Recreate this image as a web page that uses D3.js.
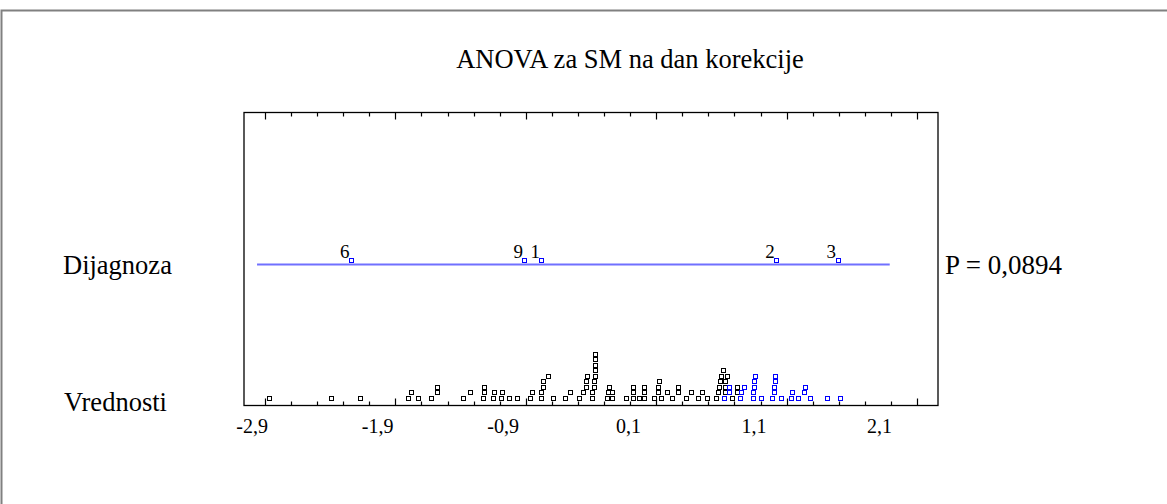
<!DOCTYPE html>
<html>
<head>
<meta charset="utf-8">
<script src="https://cdn.jsdelivr.net/npm/d3@7"></script>
<style>
  body { margin: 0; background: #fff; }
  svg { display: block; }
  text { font-family: "Liberation Serif", "Times New Roman", serif; fill: #000; }
</style>
</head>
<body>
<svg id="chart" width="1167" height="504"></svg>
<script>
// ---- data ----
const chartTitle = "ANOVA za SM na dan korekcije";
const factorLabel = "Dijagnoza";
const valuesLabel = "Vrednosti";
const pValueLabel = "P = 0,0894";

const tickValues = [-2.9, -1.9, -0.9, 0.1, 1.1, 2.1];
const tickLabels = ["-2,9", "-1,9", "-0,9", "0,1", "1,1", "2,1"];

// scaled group means for the factor
const groupNames = ["6", "9", "1", "2", "3"];
const groupMeans = [-2.24, -0.91, -0.78, 1.02, 1.49];
const meanLineExtent = [-2.96, 1.89];

// residual dot plot: values and their position in the pile (0 = bottom)
const blackValues = [
  -2.87, -2.39, -2.17, -1.80, -1.78, -1.73, -1.63, -1.58, -1.58, -1.38,
  -1.33, -1.23, -1.22, -1.22, -1.15, -1.14, -1.09, -1.08, -1.03, -0.97,
  -0.87, -0.85, -0.78, -0.78, -0.77, -0.77, -0.73, -0.69, -0.60, -0.56,
  -0.49, -0.46, -0.44, -0.44, -0.43, -0.39, -0.39, -0.38, -0.38, -0.37,
  -0.37, -0.37, -0.37, -0.37, -0.28, -0.27, -0.26, -0.24, -0.24, -0.13,
  -0.08, -0.08, -0.08, -0.03, 0.01, 0.01, 0.01, 0.08, 0.11, 0.11,
  0.12, 0.14, 0.18, 0.22, 0.27, 0.27, 0.33, 0.37, 0.42, 0.45,
  0.49, 0.56, 0.57, 0.58, 0.59, 0.60, 0.61, 0.63, 0.63, 0.63,
  0.64, 0.68, 0.72, 0.72
];
const blackStack = [
  0, 0, 0, 0, 1, 0, 0, 1, 2, 0,
  1, 0, 1, 2, 0, 1, 0, 1, 0, 0,
  0, 1, 0, 1, 2, 3, 4, 0, 0, 1,
  0, 1, 2, 3, 4, 0, 1, 2, 3, 4,
  5, 6, 7, 8, 0, 1, 2, 0, 1, 0,
  0, 1, 2, 0, 0, 1, 2, 0, 1, 2,
  3, 0, 1, 0, 1, 2, 0, 1, 0, 1,
  0, 0, 1, 2, 3, 4, 5, 1, 2, 3,
  4, 0, 1, 2
];
const blueValues = [
  0.62, 0.66, 0.66, 0.74, 0.75, 0.77, 0.84, 0.84, 0.85, 0.85,
  0.86, 0.90, 0.99, 1.00, 1.00, 1.01, 1.01, 1.06, 1.13, 1.14,
  1.19, 1.23, 1.24, 1.28, 1.41, 1.51
];
const blueStack = [
  0, 1, 2, 0, 1, 2, 0, 1, 2, 3,
  4, 0, 0, 1, 2, 3, 4, 0, 0, 1,
  0, 1, 2, 0, 0, 0
];

// ---- layout ----
const svg = d3.select("#chart");
const W = 1167, H = 504;
const box = { left: 244, right: 938, top: 112.5, bottom: 405.5 };
const meanRowY = 264.5;
const dotBaseY = 397.5, dotStep = 5.5;
const sq = 4; // inner square size

const x = d3.scaleLinear().domain([-3.06, 2.26]).range([box.left, box.right]);
// labels of the value axis are laid out on a slightly tighter spacing
const xLabel = d3.scaleLinear().domain([-2.9, 2.1]).range([251.7, 879]);
const yPile = d3.scaleLinear().domain([0, 1]).range([dotBaseY, dotBaseY - dotStep]);
const snap = p => Math.round(p - sq / 2) + 0.5;

svg.append("rect").attr("width", W).attr("height", H).attr("fill", "#fff");

// outer frame (top and left edges)
svg.append("path")
  .attr("d", `M1.5,${H} L1.5,10.5 L${W},10.5`)
  .attr("fill", "none").attr("stroke", "#808080").attr("stroke-width", 2);

// title
svg.append("text")
  .attr("x", 630).attr("y", 68)
  .attr("text-anchor", "middle")
  .attr("font-size", 26.5)
  .text(chartTitle);

// plot frame
svg.append("rect")
  .attr("x", box.left).attr("y", box.top)
  .attr("width", box.right - box.left).attr("height", box.bottom - box.top)
  .attr("fill", "none").attr("stroke", "#000").attr("stroke-width", 1.3);

// inward ticks on top and bottom edges
const minorTicks = d3.range(0, 26).map(i => -2.9 + i * 0.2);
const isMajor = v => tickValues.some(t => Math.abs(t - v) < 1e-6);
const tickG = svg.append("g").attr("stroke", "#000").attr("stroke-width", 1.2);
minorTicks.forEach(v => {
  const len = isMajor(v) ? 7 : 4;
  const px = Math.round(x(v)) + 0.5;
  tickG.append("line").attr("x1", px).attr("x2", px)
    .attr("y1", box.top).attr("y2", box.top + len);
  tickG.append("line").attr("x1", px).attr("x2", px)
    .attr("y1", box.bottom).attr("y2", box.bottom - len);
});

// tick labels
const labelAxis = d3.axisBottom(xLabel)
  .tickValues(tickValues)
  .tickFormat((d, i) => tickLabels[i])
  .tickSize(0).tickPadding(0);
const axG = svg.append("g").attr("transform", `translate(0,${433 - 15})`).call(labelAxis);
axG.select(".domain").remove();
axG.selectAll("text")
  .attr("dy", null).attr("y", 15)
  .attr("font-family", '"Liberation Serif", "Times New Roman", serif')
  .attr("font-size", 20).attr("fill", "#000");

// row labels
svg.append("text").attr("x", 63).attr("y", 274).attr("font-size", 26.5).text(factorLabel);
svg.append("text").attr("x", 64).attr("y", 410.7).attr("font-size", 26.5).text(valuesLabel);
svg.append("text").attr("x", 945).attr("y", 274).attr("font-size", 27).text(pValueLabel);

// line of group means
svg.append("line")
  .attr("x1", x(meanLineExtent[0])).attr("x2", x(meanLineExtent[1]))
  .attr("y1", meanRowY).attr("y2", meanRowY)
  .attr("stroke", "#7070ff").attr("stroke-width", 1.8);

const meanData = groupNames.map((n, i) => ({ name: n, v: groupMeans[i] }));
svg.append("g").attr("shape-rendering", "crispEdges")
  .selectAll("rect").data(meanData).join("rect")
  .attr("x", d => snap(x(d.v))).attr("y", Math.round(meanRowY - 5 - sq / 2) + 0.5)
  .attr("width", sq).attr("height", sq)
  .attr("fill", "#fff").attr("stroke", "#0000ff").attr("stroke-width", 1);
svg.append("g").selectAll("text").data(meanData).join("text")
  .attr("x", d => x(d.v) - 1.5).attr("y", meanRowY - 6.2)
  .attr("text-anchor", "end").attr("font-size", 19)
  .text(d => d.name);

// dot plot of residuals
function drawDots(values, stack, color) {
  const data = values.map((v, i) => ({ v, k: stack[i] }));
  svg.append("g").attr("shape-rendering", "crispEdges")
    .selectAll("rect").data(data).join("rect")
    .attr("x", d => snap(x(d.v))).attr("y", d => snap(yPile(d.k)))
    .attr("width", sq).attr("height", sq)
    .attr("fill", "#fff").attr("stroke", color).attr("stroke-width", 1);
}
drawDots(blackValues, blackStack, "#000");
drawDots(blueValues, blueStack, "#0000ff");
</script>
</body>
</html>
